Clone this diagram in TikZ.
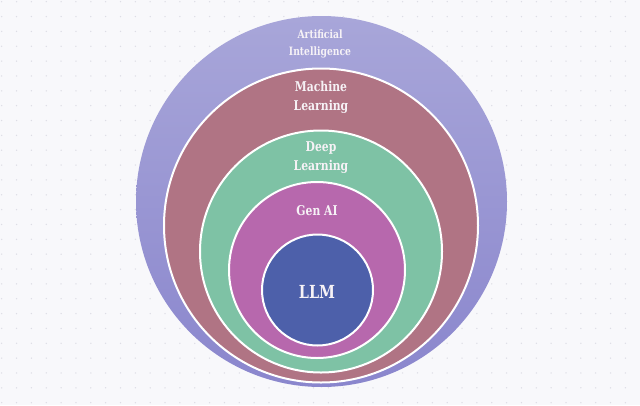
\documentclass[tikz,border=0pt]{standalone}
\usepackage{fontspec}
\newfontfamily\labfont[FakeStretch=0.8]{DejaVu Serif}
\definecolor{bgc}{HTML}{F8F8FB}
\definecolor{dotc}{HTML}{DDDDE5}
\definecolor{aiTop}{HTML}{A8A6D9}
\definecolor{aiBot}{HTML}{8A86CD}
\definecolor{mlc}{HTML}{B07484}
\definecolor{dlc}{HTML}{7EC2A5}
\definecolor{gac}{HTML}{B768AD}
\definecolor{llmc}{HTML}{4D60AA}
\definecolor{txt}{HTML}{F6F2F6}
\tikzset{
  ring/.style={circle, inner sep=0pt, draw=white, line width=2pt},
  lab/.style={text=txt, align=center, inner sep=0pt}
}
\begin{document}
\begin{tikzpicture}[x=1pt,y=-1pt]
\fill[bgc] (0,0) rectangle (640,405);
\useasboundingbox (0,0) rectangle (640,405);
\foreach \i in {0,...,42} {
  \foreach \j in {0,...,27} {
    \fill[dotc] (1.7+14.85*\i, 1.7+14.85*\j) circle (0.75);
  }
}
\node[circle, inner sep=0pt, minimum size=371pt, top color=aiTop, bottom color=aiBot, draw=none] (ai) at (321.5,201.5) {};
\node[ring, fill=mlc, minimum size=314pt] (ml) at (321,225.5) {};
\node[ring, fill=dlc, minimum size=242pt] (dl) at (321,251.5) {};
\node[ring, fill=gac, minimum size=176pt] (ga) at (317,270) {};
\node[ring, fill=llmc, minimum size=111pt] (llm) at (317.5,290) {};

\node[lab, font=\labfont\bfseries\fontsize{11.5}{17}\selectfont] (tai) at (320,44) {Artificial\\Intelligence};
\node[lab, font=\labfont\bfseries\fontsize{13.5}{19}\selectfont] (tml) at (321,97) {Machine\\Learning};
\node[lab, font=\labfont\bfseries\fontsize{13.5}{19}\selectfont] (tdl) at (321,158) {Deep\\Learning};
\node[lab, font=\labfont\bfseries\fontsize{13.5}{19}\selectfont] (tga) at (317,211) {Gen AI};
\node[lab, font=\labfont\bfseries\fontsize{18}{20}\selectfont] (tllm) at (317,292) {LLM};
\end{tikzpicture}
\end{document}
